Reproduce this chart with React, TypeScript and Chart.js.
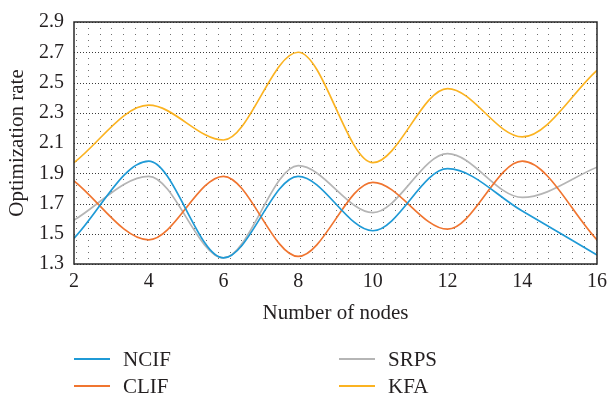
import React, { useEffect, useRef } from 'react';
import { Chart, registerables } from 'chart.js';

Chart.register(...registerables);

const nodes = [2, 4, 6, 8, 10, 12, 14, 16];
const ncif = [1.47, 1.98, 1.34, 1.88, 1.52, 1.93, 1.65, 1.36];
const clif = [1.85, 1.46, 1.88, 1.35, 1.84, 1.53, 1.98, 1.46];
const srps = [1.59, 1.88, 1.34, 1.95, 1.64, 2.03, 1.74, 1.94];
const kfa = [1.97, 2.35, 2.12, 2.7, 1.97, 2.46, 2.14, 2.58];
const yTicks = [1.3, 1.5, 1.7, 1.9, 2.1, 2.3, 2.5, 2.7, 2.9];
const xTicks = [2, 4, 6, 8, 10, 12, 14, 16];

const seriesNames = ['NCIF', 'CLIF', 'SRPS', 'KFA'];
const seriesValues = [ncif, clif, srps, kfa];
const seriesColors = ['#1f9ad6', '#f07530', '#b5b5b5', '#fbb321'];

const FONT = "'Liberation Serif', 'Times New Roman', serif";
const TEXT = '#231f20';

const gridPlugin = {
  id: 'dotGrid',
  beforeDatasetsDraw(chart: any) {
    const { ctx, chartArea, scales } = chart;
    const xs = scales.x;
    const ys = scales.y;
    ctx.save();
    const colStart = 2.0528;
    const colStep = 0.3162;
    const cols: number[] = [];
    for (let v = colStart; v < 16; v += colStep) cols.push(xs.getPixelForValue(v));
    ctx.fillStyle = '#707070';
    for (let k = 1; k < 40; k++) {
      if (k % 5 === 0) continue;
      const yv = 1.3 + k * 0.04;
      const py = Math.round(ys.getPixelForValue(yv));
      for (const px of cols) ctx.fillRect(Math.round(px), py, 1, 1);
    }
    ctx.strokeStyle = '#3a3a3a';
    ctx.lineWidth = 1;
    ctx.setLineDash([1, 2]);
    for (const t of yTicks) {
      const py = Math.round(ys.getPixelForValue(t)) + 0.5;
      ctx.beginPath();
      ctx.moveTo(chartArea.left, py);
      ctx.lineTo(chartArea.right, py);
      ctx.stroke();
    }
    ctx.restore();
  },
  afterDatasetsDraw(chart: any) {
    const { ctx, chartArea } = chart;
    ctx.save();
    ctx.strokeStyle = '#2a2a2a';
    ctx.lineWidth = 1.5;
    ctx.setLineDash([]);
    ctx.strokeRect(chartArea.left, chartArea.top, chartArea.right - chartArea.left, chartArea.bottom - chartArea.top);
    ctx.restore();
  },
};

export default function App() {
  const ref = useRef<HTMLCanvasElement>(null);

  useEffect(() => {
    if (!ref.current) return;
    const chart = new Chart(ref.current, {
      type: 'line',
      data: {
        datasets: seriesNames.map((name, i) => ({
          label: name,
          data: nodes.map((x, j) => ({ x, y: seriesValues[i][j] })),
          borderColor: seriesColors[i],
          backgroundColor: seriesColors[i],
          borderWidth: 1.7,
          pointRadius: 0,
          cubicInterpolationMode: 'monotone' as const,
          fill: false,
        })),
      },
      options: {
        responsive: false,
        animation: false,
        layout: { padding: { left: 0, top: 14, right: 9, bottom: 70 } },
        plugins: { legend: { display: false }, tooltip: { enabled: false } },
        scales: {
          x: {
            type: 'linear',
            min: 2,
            max: 16,
            afterBuildTicks: (s: any) => {
              s.ticks = xTicks.map((v) => ({ value: v }));
            },
            afterFit: (s: any) => {
              s.height = 64;
            },
            grid: { display: false, drawTicks: false },
            border: { display: false },
            ticks: {
              padding: 6,
              color: TEXT,
              font: { family: FONT, size: 20 },
              maxRotation: 0,
              autoSkip: false,
            },
            title: {
              display: true,
              text: 'Number of nodes',
              color: TEXT,
              font: { family: FONT, size: 21 },
              padding: { top: 0, bottom: 2 },
            },
          },
          y: {
            type: 'linear',
            min: 1.3,
            max: 2.9,
            afterBuildTicks: (s: any) => {
              s.ticks = yTicks.map((v) => ({ value: v }));
            },
            afterFit: (s: any) => {
              s.width = 74;
            },
            grid: { display: false, drawTicks: false },
            border: { display: false },
            ticks: {
              padding: 10,
              color: TEXT,
              font: { family: FONT, size: 20 },
              callback: (v: any) => Number(v).toFixed(1),
              autoSkip: false,
            },
            title: {
              display: true,
              text: 'Optimization rate',
              color: TEXT,
              font: { family: FONT, size: 21 },
              padding: { top: 5, bottom: 0 },
            },
          },
        },
      },
      plugins: [gridPlugin],
    });
    return () => chart.destroy();
  }, []);

  const legendPos = [
    { left: 74, top: 359 },
    { left: 74, top: 386 },
    { left: 339, top: 359 },
    { left: 339, top: 386 },
  ];

  return (
    <div style={{ position: 'fixed', left: 0, top: 0, width: 613, height: 398, background: '#fff', overflow: 'hidden' }}>
      <canvas ref={ref} width={613} height={398} style={{ display: 'block', width: 613, height: 398 }} />
      {seriesNames.map((name, i) => (
        <div
          key={name}
          style={{
            position: 'absolute',
            left: legendPos[i].left,
            top: legendPos[i].top - 12,
            height: 24,
            display: 'flex',
            alignItems: 'center',
            fontFamily: FONT,
            fontSize: 21,
            color: TEXT,
            whiteSpace: 'nowrap',
          }}
        >
          <span style={{ display: 'inline-block', width: 36, height: 2, background: seriesColors[i], marginRight: 13 }} />
          <span>{name}</span>
        </div>
      ))}
    </div>
  );
}
